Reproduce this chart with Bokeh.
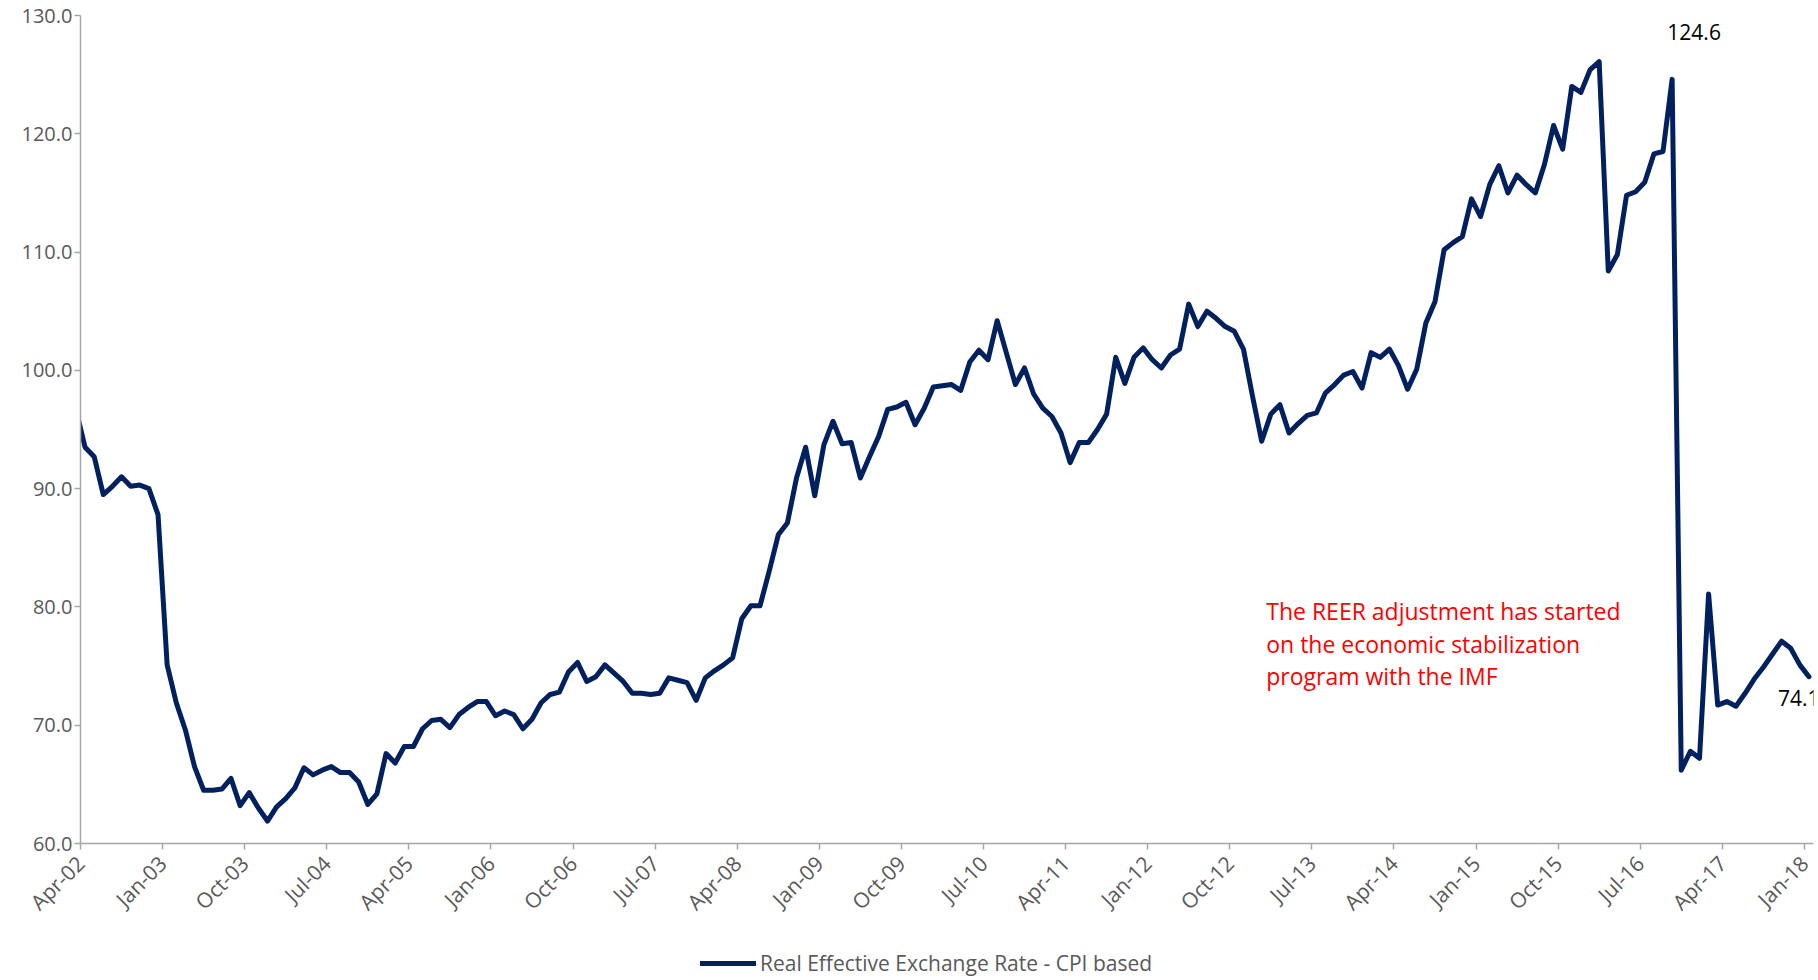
import numpy as np
import pandas as pd
from bokeh.plotting import figure
from bokeh.layouts import column
from bokeh.models import FixedTicker, PrintfTickFormatter, Label, Legend, LegendItem, Range1d
from bokeh.embed import file_html
from bokeh.resources import INLINE

# Monthly REER (CPI based), Mar-02 .. Jan-18 (Mar-02 only feeds the clipped first segment)
months = pd.date_range("2002-03-01", "2018-01-01", freq="MS").strftime("%b-%y").tolist()
reer = [
    96.7,
    93.5, 92.7, 89.5, 90.2, 91.0, 90.2, 90.3, 90.0, 87.8, 75.1,
    71.9, 69.6, 66.5, 64.5, 64.5, 64.6, 65.5, 63.2, 64.3, 63.0,
    61.9, 63.1, 63.8, 64.7, 66.4, 65.8, 66.2, 66.5, 66.0, 66.0,
    65.2, 63.3, 64.2, 67.6, 66.8, 68.2, 68.2, 69.7, 70.4, 70.5,
    69.8, 70.9, 71.5, 72.0, 72.0, 70.8, 71.2, 70.9, 69.7, 70.5,
    71.9, 72.6, 72.8, 74.5, 75.3, 73.7, 74.1, 75.1, 74.4, 73.7,
    72.7, 72.7, 72.6, 72.7, 74.0, 73.8, 73.6, 72.1, 74.0, 74.6,
    75.1, 75.7, 79.0, 80.1, 80.1, 83.0, 86.1, 87.1, 90.9, 93.5,
    89.4, 93.7, 95.7, 93.8, 93.9, 90.9, 92.7, 94.4, 96.7, 96.9,
    97.3, 95.4, 96.8, 98.6, 98.7, 98.8, 98.3, 100.7, 101.7, 100.9,
    104.2, 101.5, 98.8, 100.2, 98.0, 96.8, 96.1, 94.7, 92.2, 93.9,
    93.9, 95.0, 96.3, 101.1, 98.9, 101.1, 101.9, 100.9, 100.2, 101.3,
    101.8, 105.6, 103.7, 105.0, 104.4, 103.7, 103.3, 101.8, 97.8, 94.0,
    96.3, 97.1, 94.7, 95.5, 96.2, 96.4, 98.1, 98.8, 99.6, 99.9,
    98.5, 101.5, 101.1, 101.8, 100.4, 98.4, 100.1, 104.0, 105.8, 110.2,
    110.8, 111.3, 114.5, 113.0, 115.7, 117.3, 115.0, 116.5, 115.7, 115.0,
    117.4, 120.7, 118.7, 124.0, 123.5, 125.4, 126.1, 108.4, 109.8, 114.8,
    115.1, 115.9, 118.3, 118.5, 124.6, 66.2, 67.8, 67.2, 81.1, 71.7,
    72.0, 71.6, 72.7, 73.9, 74.9, 76.0, 77.1, 76.5, 75.1, 74.1,
]
tick_labels = ["Apr-02", "Jan-03", "Oct-03", "Jul-04", "Apr-05", "Jan-06", "Oct-06",
               "Jul-07", "Apr-08", "Jan-09", "Oct-09", "Jul-10", "Apr-11", "Jan-12",
               "Oct-12", "Jul-13", "Apr-14", "Jan-15", "Oct-15", "Jul-16", "Apr-17", "Jan-18"]
y_ticks = [60, 70, 80, 90, 100, 110, 120, 130]
series_name = "Real Effective Exchange Rate - CPI based"
note_text = "The REER adjustment has started\non the economic stabilization\nprogram with the IMF"
labelled_months = ["Oct-16", "Jan-18"]

# month m is drawn mid-month; Apr-02 starts at 0
xs = np.array([months.index(m) - 0.5 for m in months])
tick_pos = [months.index(t) - 1 for t in tick_labels]

FONT = "Open Sans"
GREY = "#595959"
AXIS = "#A6A6A6"
NAVY = "#002060"
LINE_W = 5

p = figure(width=1818, height=945, output_backend="svg", toolbar_location=None,
           x_range=Range1d(0, months.index("Jan-18")), y_range=Range1d(60, 130),
           min_border_left=80, min_border_right=5, min_border_top=15, min_border_bottom=102)
p.xgrid.visible = False
p.ygrid.visible = False
p.outline_line_color = None
p.background_fill_color = "white"
p.border_fill_color = "white"

p.line(xs, reer, line_color=NAVY, line_width=LINE_W, line_join="round", line_cap="round")

p.xaxis.ticker = FixedTicker(ticks=tick_pos)
p.xaxis.major_label_overrides = {t: l for t, l in zip(tick_pos, tick_labels)}
p.xaxis.major_label_orientation = np.pi / 4
p.yaxis.ticker = FixedTicker(ticks=y_ticks)
p.yaxis.formatter = PrintfTickFormatter(format="%.1f")
for ax in (p.xaxis, p.yaxis):
    ax.axis_line_color = AXIS
    ax.major_tick_line_color = AXIS
    ax.minor_tick_line_color = None
    ax.major_tick_in = 0
    ax.major_tick_out = 6
    ax.major_label_text_font = FONT
    ax.major_label_text_color = GREY
    ax.axis_line_width = 1.5
    ax.major_tick_line_width = 1.5
p.yaxis.major_label_text_font_size = "20px"
p.xaxis.major_label_text_font_size = "21px"
p.yaxis.major_label_standoff = 2
p.xaxis.major_label_standoff = 10

# value labels on points
for m, dx, dy, align, base in [(labelled_months[0], 22, 39, "center", "bottom"),
                               (labelled_months[1], -31, -13, "left", "top")]:
    i = months.index(m)
    p.add_layout(Label(x=xs[i], y=reer[i], text=f"{reer[i]:.1f}", x_offset=dx, y_offset=dy,
                       text_align=align, text_baseline=base, text_font=FONT,
                       text_font_size="21px", text_color="black"))

p.add_layout(Label(x=months.index("Feb-13") - 1, y=81.0, text=note_text,
                   text_baseline="top", text_align="left", text_font=FONT,
                   text_font_size="23px", text_color="#FF0000", text_line_height=1.02))

# legend strip below the chart (frame aligned with the chart frame by the column)
lg = figure(width=1818, height=35, output_backend="svg", toolbar_location=None,
            x_range=Range1d(0, 1), y_range=Range1d(0, 1), min_border=0)
lg.axis.visible = False
lg.xgrid.visible = False
lg.ygrid.visible = False
lg.outline_line_color = None
# same series, out of this strip's view: only its legend swatch shows
swatch = lg.line(xs, reer, line_color=NAVY, line_width=LINE_W, line_cap="round")
legend = Legend(items=[LegendItem(label=series_name, renderers=[swatch])],
                location=(620, 3), orientation="horizontal",
                glyph_width=56, glyph_height=20, label_standoff=4, padding=0, margin=0,
                border_line_alpha=0, background_fill_alpha=0,
                label_text_font=FONT, label_text_font_size="21px", label_text_color=GREY)
lg.add_layout(legend, "center")

open("out.html", "w").write(file_html(column(p, lg, spacing=0), INLINE))
